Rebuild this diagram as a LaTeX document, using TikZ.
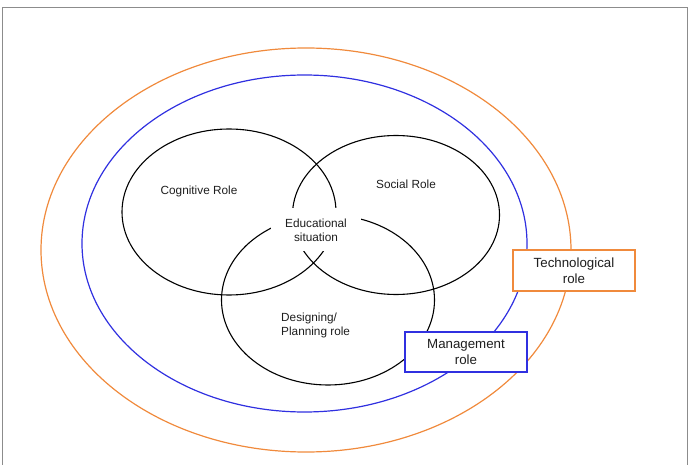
\documentclass[tikz,border=0pt]{standalone}
\usepackage{fontspec}
\setmainfont{Liberation Sans}
\usetikzlibrary{shapes.geometric,positioning}
\definecolor{cOrg}{HTML}{F08A3C}
\definecolor{cBlu}{HTML}{3030E0}
\definecolor{cFrm}{HTML}{8C8C8C}
\definecolor{cInk}{HTML}{1E1E1E}

\begin{document}
\begin{tikzpicture}[x=1pt,y=-1pt,
  ring/.style={ellipse, draw=#1, line width=1.2pt, inner sep=0pt},
  rolering/.style={ellipse, draw=black, line width=1.1pt, inner sep=0pt},
  rolebox/.style={rectangle, draw=#1, line width=1.2pt, fill=white, align=center,
     text=cInk, font=\fontsize{13.3}{15.5}\selectfont, minimum width=122pt,
     minimum height=41pt, inner sep=0pt},
  lbl/.style={font=\fontsize{11.8}{14}\selectfont, text=cInk, inner sep=0pt},
]
\useasboundingbox (0,0) rectangle (694,465);

% outer frame
\draw[cFrm, line width=1pt] (2,470) -- (2,8) -- (687,8) -- (687,470);

% =================== RINGS ===================
\node[ring=cOrg, minimum width=530pt, minimum height=404pt] (tech) at (306,250) {};
\node[ring=cBlu, minimum width=445pt, minimum height=337pt] (mgmt) at (304.5,243.5) {};

% =================== THREE ROLES ===================
\node[rolering, minimum width=214pt, minimum height=166pt] (cog) at (229,212) {};
\node[rolering, minimum width=207pt, minimum height=159pt] (soc) at (396,215) {};
\node[rolering, minimum width=213pt, minimum height=170pt] (des) at (328,300) {};

\node[lbl] (coglbl) at (199,191) {Cognitive Role};
\node[lbl] (soclbl) at (406,184) {Social Role};
\node[lbl, align=left, anchor=west] (deslbl) at (281,325) {Designing/\\Planning role};

\node[lbl, align=center, fill=white, minimum width=90pt, minimum height=43pt] (edu) at (316,230)
  {Educational\\situation};

% =================== OUTER ROLE BOXES ===================
\node[rolebox=cOrg] (techbox) at (574,270.5) {Technological\\role};
\node[rolebox=cBlu, minimum height=40pt] (mgmtbox) at (466,352) {Management\\role};

\end{tikzpicture}
\end{document}
